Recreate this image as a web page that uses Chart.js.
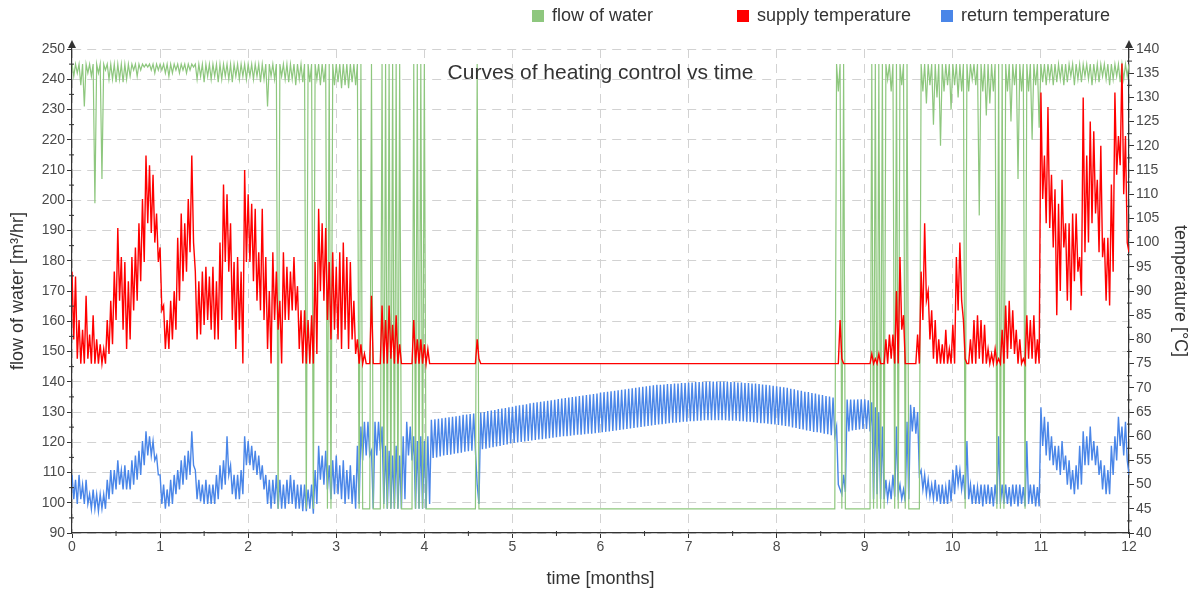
<!DOCTYPE html>
<html>
<head>
<meta charset="utf-8">
<title>Curves of heating control vs time</title>
<script src="https://cdn.jsdelivr.net/npm/chart.js@4.4.1/dist/chart.umd.min.js"></script>
<style>
    html, body { margin: 0; padding: 0; background: #ffffff; }
    #wrap { position: relative; width: 1199px; height: 590px; }
</style>
</head>
<body>
<div id="wrap"><canvas id="heatingChart"></canvas></div>
<script>
// one sample every 0.02 months, 50 samples per month, last sample at 12.00
const sampleStep = 0.02;
const monthTicks = [0, 1, 2, 3, 4, 5, 6, 7, 8, 9, 10, 11, 12];

// flow of water [m3/hr]
const flowOfWater = [
    245, 241, 245, 242, 245, 238, 245, 231, 245, 242, 245, 241, 245, 199, 245, 242, 245, 207, 245, 243, 245, 240, 245, 240, 245, 239, 245, 240, 245, 239, 245, 240, 245, 241, 245, 243, 245, 241, 245, 243, 245, 244, 245, 244, 245, 243, 245, 242, 245, 243, // month 0
    245, 243, 245, 242, 245, 241, 245, 242, 245, 243, 245, 242, 245, 243, 245, 242, 245, 243, 245, 244, 245, 240, 245, 241, 245, 239, 245, 241, 245, 240, 245, 241, 245, 239, 245, 240, 245, 241, 245, 240, 245, 239, 245, 241, 245, 240, 245, 241, 245, 240, // month 1
    245, 241, 245, 240, 245, 241, 245, 239, 245, 240, 245, 231, 245, 241, 245, 240, 245, 98, 245, 241, 245, 240, 245, 239, 245, 240, 245, 238, 245, 240, 245, 239, 245, 98, 245, 239, 245, 98, 245, 240, 245, 238, 245, 239, 245, 98, 245, 98, 245, 238,      // month 2
    245, 239, 245, 237, 245, 238, 245, 237, 245, 239, 245, 238, 245, 98, 245, 98, 98, 98, 98, 98, 245, 98, 98, 98, 98, 98, 245, 98, 245, 98, 245, 98, 245, 98, 245, 98, 245, 98, 98, 98, 98, 98, 98, 98, 245, 98, 245, 98, 245, 98,                   // month 3
    245, 98, 98, 98, 98, 98, 98, 98, 98, 98, 98, 98, 98, 98, 98, 98, 98, 98, 98, 98, 98, 98, 98, 98, 98, 98, 98, 98, 98, 98, 245, 98, 98, 98, 98, 98, 98, 98, 98, 98, 98, 98, 98, 98, 98, 98, 98, 98, 98, 98,                                // month 4
    98, 98, 98, 98, 98, 98, 98, 98, 98, 98, 98, 98, 98, 98, 98, 98, 98, 98, 98, 98, 98, 98, 98, 98, 98, 98, 98, 98, 98, 98, 98, 98, 98, 98, 98, 98, 98, 98, 98, 98, 98, 98, 98, 98, 98, 98, 98, 98, 98, 98,                                   // month 5
    98, 98, 98, 98, 98, 98, 98, 98, 98, 98, 98, 98, 98, 98, 98, 98, 98, 98, 98, 98, 98, 98, 98, 98, 98, 98, 98, 98, 98, 98, 98, 98, 98, 98, 98, 98, 98, 98, 98, 98, 98, 98, 98, 98, 98, 98, 98, 98, 98, 98,                                   // month 6
    98, 98, 98, 98, 98, 98, 98, 98, 98, 98, 98, 98, 98, 98, 98, 98, 98, 98, 98, 98, 98, 98, 98, 98, 98, 98, 98, 98, 98, 98, 98, 98, 98, 98, 98, 98, 98, 98, 98, 98, 98, 98, 98, 98, 98, 98, 98, 98, 98, 98,                                   // month 7
    98, 98, 98, 98, 98, 98, 98, 98, 98, 98, 98, 98, 98, 98, 98, 98, 98, 98, 98, 98, 98, 98, 98, 98, 98, 98, 98, 98, 98, 98, 98, 98, 98, 98, 245, 236, 245, 98, 245, 98, 98, 98, 98, 98, 98, 98, 98, 98, 98, 98,                             // month 8
    98, 98, 98, 98, 245, 98, 245, 98, 245, 98, 245, 98, 245, 240, 245, 236, 245, 98, 245, 98, 245, 238, 245, 98, 245, 98, 98, 98, 98, 98, 98, 98, 245, 236, 245, 232, 245, 238, 245, 225, 245, 234, 245, 218, 245, 236, 245, 238, 245, 230,        // month 9
    245, 238, 245, 234, 245, 236, 245, 98, 245, 236, 245, 240, 245, 238, 245, 195, 245, 236, 245, 228, 245, 232, 245, 236, 245, 98, 245, 98, 245, 98, 245, 236, 245, 226, 245, 238, 245, 207, 245, 236, 245, 98, 245, 236, 245, 220, 245, 238, 245, 224, // month 10
    245, 239, 245, 238, 245, 240, 245, 238, 245, 239, 245, 240, 245, 238, 245, 239, 245, 241, 245, 238, 245, 240, 245, 239, 245, 241, 245, 240, 245, 238, 245, 240, 245, 239, 245, 241, 245, 240, 245, 238, 245, 240, 245, 241, 245, 239, 245, 240, 245, 241, // month 11
    245
];

// supply temperature [°C]
const supplyTemp = [
    94, 80, 93, 76, 84, 75, 82, 75, 89, 76, 81, 75, 85, 75, 80, 75, 79, 75, 78, 75, 84, 77, 88, 79, 94, 84, 103, 88, 97, 82, 96, 78, 92, 80, 97, 86, 99, 88, 104, 92, 109, 96, 118, 104, 116, 102, 114, 100, 106, 96,      // month 0
    99, 86, 87, 78, 84, 78, 88, 80, 90, 82, 101, 88, 106, 92, 104, 94, 109, 98, 118, 100, 94, 80, 92, 81, 94, 83, 95, 84, 93, 82, 95, 80, 92, 80, 100, 84, 112, 96, 110, 94, 104, 84, 96, 78, 97, 82, 94, 75, 115, 96,    // month 1
    110, 96, 108, 92, 107, 88, 98, 86, 107, 84, 97, 78, 90, 75, 98, 84, 94, 82, 88, 75, 98, 84, 95, 84, 94, 86, 97, 86, 91, 78, 86, 75, 86, 75, 84, 75, 85, 75, 96, 77, 107, 90, 104, 88, 103, 84, 96, 80, 98, 82,       // month 2
    95, 80, 98, 78, 100, 82, 97, 78, 96, 80, 88, 77, 80, 75, 79, 75, 77, 75, 75, 75, 89, 75, 75, 75, 75, 75, 87, 75, 84, 75, 87, 76, 83, 75, 85, 75, 79, 75, 75, 75, 75, 75, 75, 75, 84, 75, 80, 75, 80, 75,             // month 3
    79, 75, 78, 75, 75, 75, 75, 75, 75, 75, 75, 75, 75, 75, 75, 75, 75, 75, 75, 75, 75, 75, 75, 75, 75, 75, 75, 75, 75, 75, 80, 76, 75, 75, 75, 75, 75, 75, 75, 75, 75, 75, 75, 75, 75, 75, 75, 75, 75, 75,             // month 4
    75, 75, 75, 75, 75, 75, 75, 75, 75, 75, 75, 75, 75, 75, 75, 75, 75, 75, 75, 75, 75, 75, 75, 75, 75, 75, 75, 75, 75, 75, 75, 75, 75, 75, 75, 75, 75, 75, 75, 75, 75, 75, 75, 75, 75, 75, 75, 75, 75, 75,             // month 5
    75, 75, 75, 75, 75, 75, 75, 75, 75, 75, 75, 75, 75, 75, 75, 75, 75, 75, 75, 75, 75, 75, 75, 75, 75, 75, 75, 75, 75, 75, 75, 75, 75, 75, 75, 75, 75, 75, 75, 75, 75, 75, 75, 75, 75, 75, 75, 75, 75, 75,             // month 6
    75, 75, 75, 75, 75, 75, 75, 75, 75, 75, 75, 75, 75, 75, 75, 75, 75, 75, 75, 75, 75, 75, 75, 75, 75, 75, 75, 75, 75, 75, 75, 75, 75, 75, 75, 75, 75, 75, 75, 75, 75, 75, 75, 75, 75, 75, 75, 75, 75, 75,             // month 7
    75, 75, 75, 75, 75, 75, 75, 75, 75, 75, 75, 75, 75, 75, 75, 75, 75, 75, 75, 75, 75, 75, 75, 75, 75, 75, 75, 75, 75, 75, 75, 75, 75, 75, 75, 75, 84, 76, 75, 75, 75, 75, 75, 75, 75, 75, 75, 75, 75, 75,             // month 8
    75, 75, 75, 75, 77, 75, 76, 75, 77, 75, 75, 75, 80, 75, 81, 76, 81, 75, 90, 75, 97, 82, 85, 75, 75, 75, 75, 75, 75, 75, 81, 75, 94, 84, 104, 88, 90, 80, 86, 76, 84, 75, 80, 75, 79, 75, 82, 75, 78, 75,             // month 9
    83, 75, 97, 86, 100, 88, 84, 76, 75, 75, 80, 75, 84, 75, 85, 76, 84, 75, 83, 75, 78, 75, 77, 75, 78, 75, 76, 75, 82, 75, 87, 76, 88, 78, 86, 77, 82, 75, 80, 75, 76, 75, 85, 76, 84, 76, 85, 75, 80, 75,             // month 10
    131, 109, 118, 104, 128, 103, 114, 99, 111, 85, 108, 90, 113, 99, 104, 88, 104, 86, 106, 92, 106, 94, 97, 89, 130, 98, 118, 100, 125, 104, 123, 106, 113, 98, 120, 97, 101, 88, 101, 87, 112, 94, 131, 114, 122, 116, 137, 110, 122, 100, // month 11
    98
];

// return temperature [°C]
const returnTemp = [
    52, 47, 51, 46, 52, 47, 50, 46, 51, 46, 48, 45, 49, 45, 48, 44.5, 48, 45, 48, 45, 51, 47, 53, 48, 53, 49, 55, 50, 53, 49, 54, 49, 53, 49, 55, 50, 56, 51, 57, 52, 59, 54, 61, 56, 60, 56, 59, 55, 56, 52,       // month 0
    52, 46, 50, 45, 49, 45.5, 51, 46, 52, 48, 53, 49, 55, 50, 56, 51, 57, 52, 61, 54, 53, 47, 51, 46.5, 50, 46, 51, 46, 50, 46, 50, 46, 52, 47, 54, 49, 55, 50, 60, 52, 54, 48, 52, 47, 52, 47, 53, 48, 60, 54,   // month 1
    59, 54, 58, 53, 57, 52, 56, 51, 54, 49, 52, 46, 51, 45, 51, 46, 52, 45, 51, 45, 50, 45, 51, 46, 52, 46, 51, 45, 50, 45, 50, 44.5, 50, 44.5, 49, 45, 50, 44, 53, 46, 58, 51, 56, 50, 57, 49, 54, 47, 55, 48,   // month 2
    56, 48, 54, 47, 55, 46, 53, 47, 54, 46, 52, 45, 58, 46, 62, 55, 63, 56, 63, 56, 57, 45, 63, 56, 63, 57, 62, 46, 58, 45, 57, 45, 56, 45, 58, 45, 56, 45, 60, 47, 63, 56, 62, 55, 60, 45, 59, 45, 60, 45,       // month 3
    59, 45, 60, 46, 63.4, 55.5, 63.5, 55.6, 63.6, 55.8, 63.7, 56, 63.8, 56.1, 63.9, 56.2, 64, 56.4, 64.1, 56.5, 64.2, 56.6, 64.4, 56.8, 64.5, 56.9, 64.6, 57, 64.7, 57, 50, 46, 64.9, 57.3, 65, 57.4, 65.2, 57.6, 65.3, 57.7, 65.4, 57.9, 65.6, 58, 65.7, 58.2, 65.8, 58.3, 66, 58.5, // month 4
    66.1, 58.6, 66.3, 58.7, 66.4, 58.8, 66.5, 58.9, 66.6, 59, 66.8, 59.1, 66.9, 59.2, 67, 59.3, 67.1, 59.4, 67.2, 59.5, 67.3, 59.6, 67.4, 59.7, 67.5, 59.8, 67.7, 59.9, 67.8, 60, 67.9, 60, 68, 60.1, 68.1, 60.2, 68.2, 60.3, 68.3, 60.3, 68.4, 60.4, 68.5, 60.5, 68.6, 60.5, 68.7, 60.6, 68.8, 60.7, // month 5
    69, 60.8, 69.1, 60.9, 69.2, 61, 69.3, 61.1, 69.4, 61.2, 69.5, 61.3, 69.6, 61.4, 69.7, 61.5, 69.8, 61.6, 69.9, 61.7, 70, 61.8, 70.1, 61.9, 70.2, 62, 70.3, 62.1, 70.4, 62.2, 70.5, 62.3, 70.6, 62.4, 70.6, 62.5, 70.7, 62.6, 70.8, 62.7, 70.8, 62.8, 70.9, 62.8, 70.9, 62.9, 71, 63, 71, 63,   // month 6
    71.1, 63.1, 71.1, 63.1, 71.2, 63.2, 71.2, 63.2, 71.2, 63.3, 71.3, 63.3, 71.3, 63.3, 71.3, 63.3, 71.3, 63.3, 71.3, 63.3, 71.3, 63.3, 71.3, 63.2, 71.2, 63.2, 71.2, 63.2, 71.1, 63.1, 71.1, 63.1, 71, 63, 71, 63, 70.9, 62.9, 70.9, 62.8, 70.8, 62.7, 70.7, 62.7, 70.6, 62.6, 70.5, 62.5, 70.4, 62.4, // month 7
    70.3, 62.3, 70.2, 62.2, 70.1, 62.1, 70, 62, 69.8, 61.8, 69.7, 61.7, 69.5, 61.5, 69.4, 61.4, 69.2, 61.2, 69.1, 61.1, 68.9, 60.9, 68.8, 60.8, 68.6, 60.7, 68.5, 60.5, 68.3, 60.4, 68.2, 60.2, 68, 60.1, 62, 50, 49, 48, 52, 48.5, 67.6, 61, 67.6, 61.2, 67.6, 61.3, 67.6, 61.4, 67.6, 61.5, // month 8
    67.6, 61.5, 67.4, 61, 67, 47, 66, 48, 65, 47, 62, 47, 51, 47, 50, 47, 52, 47.5, 62, 48, 50, 47, 49, 46.5, 63, 47, 66.5, 61, 66, 60.5, 65, 52, 53, 49, 52, 48, 51, 47.5, 50, 47, 51, 46.5, 50, 46, 50, 46, 49.5, 46, 51, 46.5, // month 9
    53, 48, 54, 50, 53, 49, 52, 47, 59, 47, 50, 46, 50, 46, 49.5, 46, 50, 45.5, 50, 46, 50, 46, 49.5, 45.5, 50, 46, 60, 46, 50, 46, 50, 46, 49.5, 45.5, 50, 46, 50, 45.5, 50, 46, 49.5, 45.5, 59, 46, 50, 46, 50, 45.5, 49.5, 45.5, // month 10
    66, 58, 64, 56, 63, 55, 60, 54, 58, 53, 58, 52, 59, 53, 56, 50, 55, 49, 53, 48, 54, 49, 58, 50, 61, 54, 60, 54, 62, 55, 59, 54, 58, 52, 55, 49, 54, 48, 53, 48, 58, 52, 60, 55, 64, 58, 62, 56, 63, 55,     // month 11
    52
];

const colors = {
    flow: '#8ec77e',
    supply: '#ff0000',
    ret: '#4a86e8',
    axis: '#333333',
    grid: '#d2d2d2',
    text: '#4a4a4a'
};

const fontFamily = '"Liberation Sans", Arial, sans-serif';

function toPoints(values) {
    return values.map((v, i) => ({ x: i * sampleStep, y: v }));
}

// legend drawn at the top right, with the item spacing of the original
const legendBoxX = [532, 737, 941];
const topLegend = {
    id: 'topLegend',
    afterDraw(chart) {
        const { ctx } = chart;
        ctx.save();
        ctx.font = '18px ' + fontFamily;
        ctx.textBaseline = 'middle';
        chart.data.datasets.forEach((ds, i) => {
            const x = legendBoxX[i];
            ctx.fillStyle = ds.backgroundColor;
            ctx.fillRect(x, 10, 12, 12);
            ctx.fillStyle = '#333';
            ctx.fillText(ds.label, x + 20, 16);
        });
        ctx.restore();
    }
};

// title written inside the plot area
const innerTitle = {
    id: 'innerTitle',
    afterDatasetsDraw(chart) {
        const { ctx, chartArea } = chart;
        ctx.save();
        ctx.font = '21px ' + fontFamily;
        ctx.fillStyle = '#333';
        ctx.textAlign = 'center';
        ctx.textBaseline = 'middle';
        ctx.fillText('Curves of heating control vs time', (chartArea.left + chartArea.right) / 2, chartArea.top + 24);
        ctx.restore();
    }
};

// minor ticks and arrow heads on the value axes
const axisExtras = {
    id: 'axisExtras',
    afterDraw(chart) {
        const { ctx, chartArea, scales } = chart;
        ctx.save();
        ctx.strokeStyle = colors.axis;
        ctx.fillStyle = colors.axis;
        ctx.lineWidth = 1;
        ctx.beginPath();
        for (let m = 0.5; m < 12; m += 1) {
            const px = scales.x.getPixelForValue(m);
            ctx.moveTo(px, chartArea.bottom - 2);
            ctx.lineTo(px, chartArea.bottom + 3);
        }
        for (let f = 95; f < 250; f += 10) {
            const py = scales.y.getPixelForValue(f);
            ctx.moveTo(chartArea.left - 3, py);
            ctx.lineTo(chartArea.left + 2, py);
        }
        for (let t = 42.5; t < 140; t += 5) {
            const py = scales.y1.getPixelForValue(t);
            ctx.moveTo(chartArea.right - 2, py);
            ctx.lineTo(chartArea.right + 3, py);
        }
        ctx.stroke();
        [chartArea.left, chartArea.right].forEach(x => {
            ctx.beginPath();
            ctx.moveTo(x, chartArea.top - 9);
            ctx.lineTo(x - 4, chartArea.top - 1);
            ctx.lineTo(x + 4, chartArea.top - 1);
            ctx.closePath();
            ctx.fill();
        });
        ctx.restore();
    }
};

const tickFont = { family: fontFamily, size: 14 };
const titleFont = { family: fontFamily, size: 18 };

new Chart(document.getElementById('heatingChart'), {
    type: 'line',
    data: {
        datasets: [{
            label: 'flow of water',
            data: toPoints(flowOfWater),
            yAxisID: 'y',
            borderColor: colors.flow,
            backgroundColor: colors.flow,
            borderWidth: 1.2,
            order: 1
        }, {
            label: 'supply temperature',
            data: toPoints(supplyTemp),
            yAxisID: 'y1',
            borderColor: colors.supply,
            backgroundColor: colors.supply,
            borderWidth: 1.4,
            order: 0
        }, {
            label: 'return temperature',
            data: toPoints(returnTemp),
            yAxisID: 'y1',
            borderColor: colors.ret,
            backgroundColor: colors.ret,
            borderWidth: 1.4,
            order: 2
        }]
    },
    options: {
        responsive: true,
        maintainAspectRatio: false,
        animation: false,
        layout: { padding: { left: 4, right: 6, top: 49, bottom: 0 } },
        elements: {
            point: { radius: 0, hoverRadius: 0 },
            line: { tension: 0 }
        },
        plugins: {
            tooltip: { enabled: false },
            legend: { display: false }
        },
        scales: {
            x: {
                type: 'linear',
                min: 0,
                max: 12,
                afterBuildTicks: (scale) => { scale.ticks = monthTicks.map(v => ({ value: v })); },
                afterFit: (scale) => { scale.height = 57; },
                ticks: { color: colors.text, font: tickFont, padding: 1, maxRotation: 0 },
                grid: { color: colors.grid, tickColor: colors.axis, tickLength: 5 },
                border: { color: colors.axis, width: 1.2, dash: [9, 6] },
                title: { display: true, text: 'time [months]', color: '#333', font: titleFont, padding: { top: 2, bottom: 0 } }
            },
            y: {
                position: 'left',
                min: 90,
                max: 250,
                afterFit: (scale) => { scale.width = 68; },
                ticks: { stepSize: 10, color: colors.text, font: tickFont, padding: 2 },
                grid: { color: colors.grid, tickColor: colors.axis, tickLength: 5 },
                border: { color: colors.axis, width: 1.2, dash: [9, 6] },
                title: { display: true, text: 'flow of water [m³/hr]', color: '#333', font: titleFont, padding: 3 }
            },
            y1: {
                position: 'right',
                min: 40,
                max: 140,
                afterFit: (scale) => { scale.width = 64; },
                ticks: { stepSize: 5, color: colors.text, font: tickFont, padding: 2 },
                grid: { drawOnChartArea: false, tickColor: colors.axis, tickLength: 5 },
                border: { color: colors.axis, width: 1.2 },
                title: { display: true, text: 'temperature [°C]', color: '#333', font: titleFont, padding: 2 }
            }
        }
    },
    plugins: [topLegend, innerTitle, axisExtras]
});
</script>
</body>
</html>
